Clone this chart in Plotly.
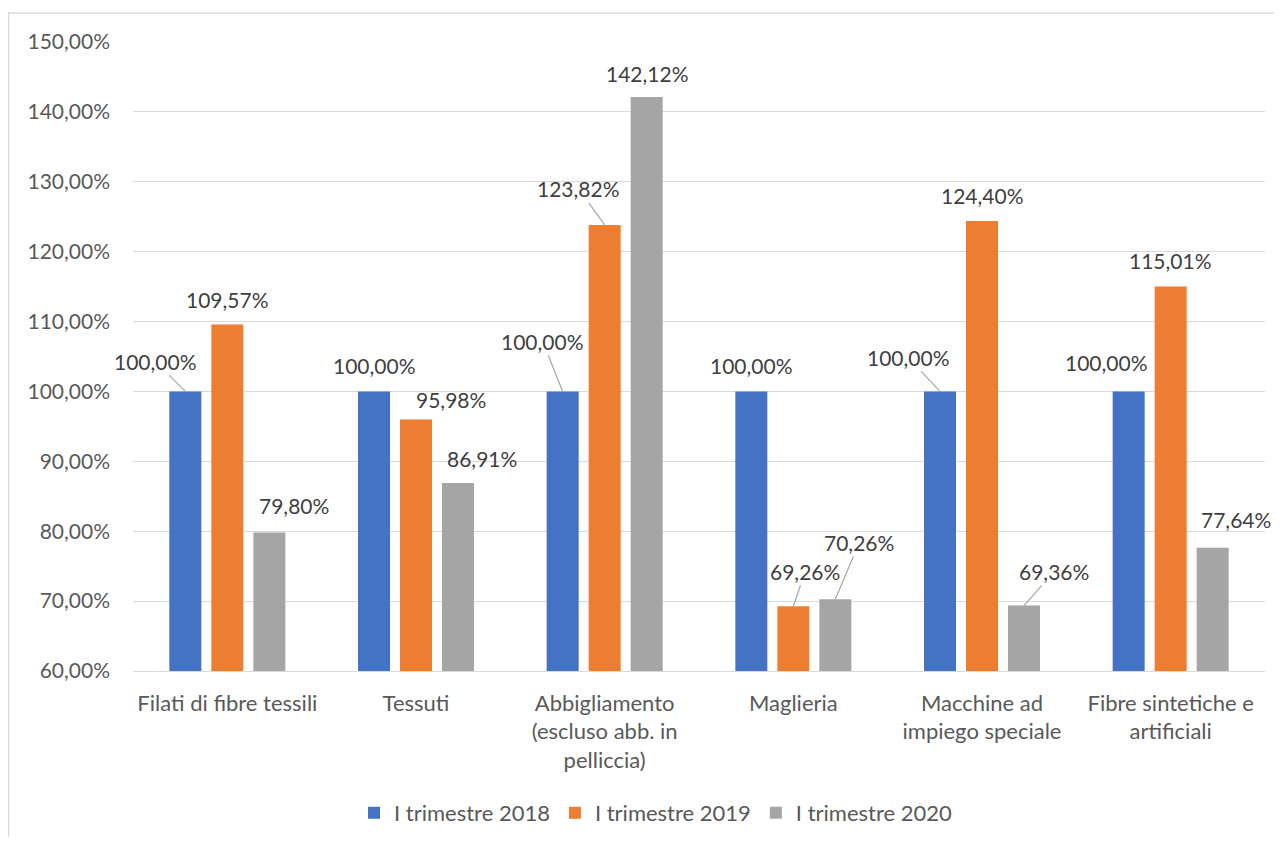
import plotly.graph_objects as go

categories = ["Filati di fibre tessili", "Tessuti", "Abbigliamento<br>(escluso abb. in<br>pelliccia)",
              "Maglieria", "Macchine ad<br>impiego speciale", "Fibre sintetiche e<br>artificiali"]
series_names = ["I trimestre 2018", "I trimestre 2019", "I trimestre 2020"]
s2018 = [100.00, 100.00, 100.00, 100.00, 100.00, 100.00]
s2019 = [109.57, 95.98, 123.82, 69.26, 124.40, 115.01]
s2020 = [79.80, 86.91, 142.12, 70.26, 69.36, 77.64]
y_ticks = [60, 70, 80, 90, 100, 110, 120, 130, 140, 150]
y_tick_text = [f"{t:.2f}".replace(".", ",") + "%" for t in y_ticks]

colors = ["#4472C4", "#ED7D31", "#A5A5A5"]
series = [s2018, s2019, s2020]

# label placement (pixel offsets of label centre from bar top, leader line flag)
label_pos = [
    [(-30, -30, True), (0, -26, False), (-20, -50, True), (0, -26, False), (-32, -34, True), (-22, -29, False)],
    [(0, -25, False), (35, -20, False), (-26, -36, True), (12, -35, True), (0, -25, False), (0, -26, False)],
    [(25, -27, False), (24, -24, False), (1, -24, False), (24, -57, True), (30, -34, True), (23, -28, False)],
]
bar_shift = [-42, 0, 42]

FONT = "Lato"
NUM_SIZE = 21
TXT_SIZE = 22

fig = go.Figure()
for name, vals, col in zip(series_names, series, colors):
    fig.add_trace(go.Bar(x=categories, y=vals, name=name, marker_color=col, marker_line_width=0))

annotations = []
for si, vals in enumerate(series):
    for ci, v in enumerate(vals):
        dx, dy, lead = label_pos[si][ci]
        txt = f"{v:.2f}".replace(".", ",") + "%"
        if lead:
            annotations.append(dict(x=categories[ci], y=v, xref="x", yref="y", text=txt,
                                    showarrow=True, arrowhead=0, arrowwidth=1.2, arrowcolor="#A6A6A6",
                                    ax=dx, ay=dy, xshift=bar_shift[si],
                                    font=dict(family=FONT, size=NUM_SIZE, color="#404040")))
        else:
            annotations.append(dict(x=categories[ci], y=v, xref="x", yref="y", text=txt,
                                    showarrow=False, xshift=bar_shift[si] + dx, yshift=-dy,
                                    font=dict(family=FONT, size=NUM_SIZE, color="#404040")))

fig.update_layout(
    width=1266, height=829,
    margin=dict(l=125, r=9, t=34, b=166),
    paper_bgcolor="white", plot_bgcolor="white",
    barmode="group", bargap=0.332, bargroupgap=0.238,
    font=dict(family=FONT, size=TXT_SIZE, color="#595959"),
    showlegend=True,
    legend=dict(orientation="h", x=0.462, xanchor="center", yref="container", y=0.029,
                yanchor="middle",
                font=dict(family=FONT, size=TXT_SIZE, color="#595959"), traceorder="normal"),
    annotations=annotations,
    shapes=[dict(type="rect", xref="paper", yref="paper", x0=-0.1100, x1=1.2, y0=-0.6, y1=1.046,
                 line=dict(color="#D9D9D9", width=1.5), fillcolor="rgba(0,0,0,0)", layer="below")],
)
fig.update_yaxes(range=[60, 150], tickvals=y_ticks, ticktext=y_tick_text, automargin=False,
                 showgrid=True, gridcolor="#D9D9D9", gridwidth=1.3, zeroline=False, showline=False,
                 ticks="", ticklabelstandoff=22,
                 tickfont=dict(family=FONT, size=NUM_SIZE, color="#595959"))
fig.update_xaxes(range=[-0.5, 5.5], automargin=False, showgrid=False, showline=True,
                 linecolor="#D9D9D9", linewidth=1.3, ticks="", ticklabelstandoff=12,
                 tickfont=dict(family=FONT, size=TXT_SIZE, color="#595959"))

fig.write_html("out.html")
